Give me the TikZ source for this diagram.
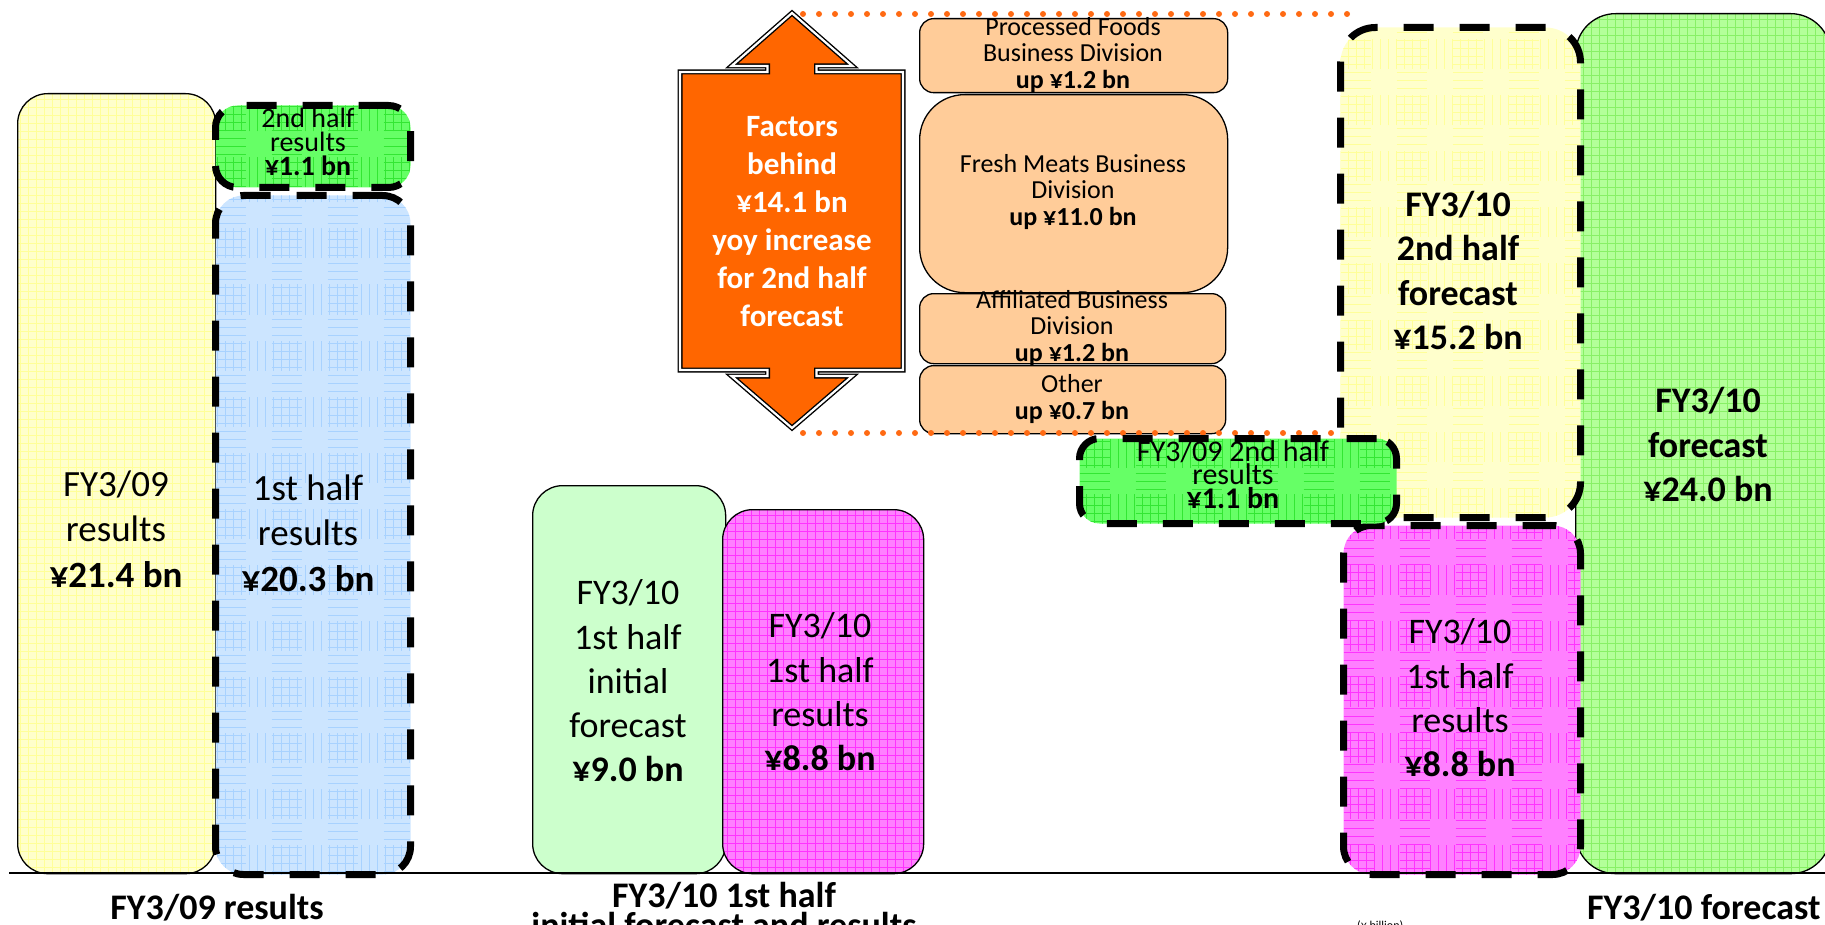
\documentclass[tikz,border=0pt]{standalone}
\usepackage{fontspec}
\setmainfont{Carlito}
\usepackage{tikz}
\definecolor{cream}{HTML}{FFFFCC}
\definecolor{creamln}{HTML}{FFFF99}
\definecolor{sky}{HTML}{CCE5FF}
\definecolor{skyln}{HTML}{A8D2FF}
\definecolor{lime}{HTML}{66FF66}
\definecolor{limeln}{HTML}{33E633}
\definecolor{mint}{HTML}{CCFFCC}
\definecolor{magfill}{HTML}{FF80FF}
\definecolor{magln}{HTML}{FF33FF}
\definecolor{leaf}{HTML}{B3FF99}
\definecolor{leafln}{HTML}{88F066}
\definecolor{peach}{HTML}{FFCC99}
\definecolor{flame}{HTML}{FF6600}
\definecolor{dotc}{HTML}{FF6A13}
\newcommand{\leftfont}{\fontsize{37}{45.5}\selectfont\lineskiplimit=-100pt}
\newcommand{\barfont}{\fontsize{36}{44.3}\selectfont\lineskiplimit=-100pt}
\newcommand{\divfont}{\fontsize{26}{26.5}\selectfont\lineskiplimit=-100pt}
\newcommand{\halffont}{\fontsize{28}{24}\selectfont\lineskiplimit=-100pt}
\newcommand{\prevfont}{\fontsize{30}{23.5}\selectfont\lineskiplimit=-100pt}
\newcommand{\arrowfont}{\bfseries\fontsize{31}{38}\selectfont\lineskiplimit=-100pt}
\newcommand{\capfont}{\bfseries\fontsize{36}{30}\selectfont\lineskiplimit=-100pt}

\begin{document}
\begin{tikzpicture}[x=1pt,y=-1pt,
  bar/.style={draw=black,line width=1.3pt,rounded corners=#1,anchor=north west,inner sep=0pt},
  bar/.default=30pt,
  dashbox/.style={draw=black,line width=7pt,dash pattern=on 30pt off 26pt,rounded corners=#1,anchor=north west,inner sep=0pt},
  dashbox/.default=28pt,
  gridded/.style={path picture={\draw[#1,line width=0.5pt,step=8pt]
    (path picture bounding box.south west) grid (path picture bounding box.north east);}},
  lbl/.style={align=center,inner sep=0pt},
  dots/.style={dotc,line width=6pt,line cap=round,dash pattern=on 0pt off 16pt}]
\useasboundingbox (0,0) rectangle (1825,925);
\clip (0,0) rectangle (1825,925);
% FY3/09 results
\node[bar,fill=cream,gridded=creamln,minimum width=198pt,minimum height=780pt] (res09) at (17,93) {};
\node[dashbox,fill=sky,gridded=skyln,minimum width=195pt,minimum height=679pt] (half1) at (212,192) {};
\node[dashbox=22pt,fill=lime,gridded=limeln,minimum width=195pt,minimum height=82pt] (half2) at (212,102) {};
\node[lbl,font=\leftfont] (t09) at (116,529) {FY3/09\\results\\\textbf{¥21.4 bn}};
\node[lbl,font=\leftfont] (th1) at (308,533) {1st half\\results\\\textbf{¥20.3 bn}};
\node[lbl,font=\halffont] (th2) at (308,142) {2nd half\\results\\\textbf{¥1.1 bn}};
% FY3/10 1st half
\node[bar,fill=mint,minimum width=193pt,minimum height=388pt] (init10) at (532,485) {};
\node[bar,fill=magfill,gridded=magln,minimum width=201pt,minimum height=364pt] (mag10) at (722,509) {};
\node[lbl,font=\barfont] (tinit) at (628,681) {FY3/10\\1st half\\initial\\forecast\\\textbf{¥9.0 bn}};
\node[lbl,font=\barfont] (tmag) at (820,692) {FY3/10\\1st half\\results\\\textbf{¥8.8 bn}};
% up-down arrow
\draw[fill=flame,draw=black,line width=1.4pt,double=white,double distance=2.2pt,line join=miter]
  (680,72) -- (767.5,72) -- (767.5,66) -- (731.5,66) -- (792,13) -- (852.5,66) -- (816.5,66)
  -- (816.5,72) -- (903,72) -- (903,370) -- (816.5,370) -- (816.5,376) -- (852.5,376)
  -- (792,428) -- (731.5,376) -- (767.5,376) -- (767.5,370) -- (680,370) -- cycle;
\node[lbl,font=\arrowfont,text=white] (tfact) at (792,221.5)
  {Factors\\behind\\¥14.1 bn\\yoy increase\\for 2nd half\\forecast};
% divisions
\node[bar=14pt,fill=peach,minimum width=308pt,minimum height=74pt] (proc) at (919,18) {};
\node[bar=45pt,fill=peach,minimum width=308pt,minimum height=198pt] (meat) at (919,94) {};
\node[bar=14pt,fill=peach,minimum width=306pt,minimum height=70pt] (aff) at (919,293) {};
\node[bar=14pt,fill=peach,minimum width=306pt,minimum height=68pt] (oth) at (919,365) {};
\node[lbl,font=\divfont] (tproc) at (1073,55) {Processed Foods\\Business Division\\\textbf{up ¥1.2 bn}};
\node[lbl,font=\divfont] (tmeat) at (1073,192) {Fresh Meats Business\\Division\\\textbf{up ¥11.0 bn}};
\node[lbl,font=\divfont] (taff) at (1072,328) {Affiliated Business\\Division\\\textbf{up ¥1.2 bn}};
\node[lbl,font=\divfont] (toth) at (1072,399) {Other\\\textbf{up ¥0.7 bn}};
\coordinate (dotTL) at (803,14);
\coordinate (dotTR) at (1352,14);
\coordinate (dotBL) at (803,433);
\coordinate (dotBR) at (1345,433);
\draw[dots] (dotTL) -- (dotTR);
\draw[dots] (dotBL) -- (dotBR);
% FY3/10 forecast
\node[bar=40pt,fill=leaf,gridded=leafln,minimum width=255pt,minimum height=860pt] (fc10) at (1575,13) {};
\node[dashbox=35pt,fill=cream,gridded=creamln,minimum width=240pt,minimum height=490pt] (fc2) at (1337,24) {};
\node[dashbox,fill=magfill,gridded=magln,minimum width=237pt,minimum height=349pt] (mag10b) at (1340,522) {};
\node[dashbox=20pt,fill=lime,gridded=limeln,minimum width=317pt,minimum height=85pt] (prev09) at (1076,435) {};
\node[lbl,font=\barfont\bfseries] (tfc2) at (1458,270.5) {FY3/10\\2nd half\\forecast\\¥15.2 bn};
\node[lbl,font=\barfont] (tmagb) at (1460,698) {FY3/10\\1st half\\results\\\textbf{¥8.8 bn}};
\node[lbl,font=\barfont\bfseries] (tfc) at (1708,444.5) {FY3/10\\forecast\\¥24.0 bn};
\node[lbl,font=\prevfont] (tprev) at (1233,474.5) {FY3/09 2nd half\\results\\\textbf{¥1.1 bn}};
% axis and captions
\coordinate (axL) at (9,873);
\coordinate (axR) at (1825,873);
\draw[line width=2.5pt] (axL) -- (axR);
\node[lbl,font=\capfont,anchor=base] (cap09) at (217,919) {FY3/09 results};
\node[lbl,font=\capfont,anchor=north] (caph) at (724,882) {FY3/10 1st half\\initial forecast and results};
\node[lbl,font=\capfont,anchor=base west] (capfc) at (1587,919) {FY3/10 forecast};
\node[lbl,font=\fontsize{12}{14}\selectfont,anchor=north west] (unit) at (1357,921) {(¥ billion)};
\end{tikzpicture}
\end{document}
